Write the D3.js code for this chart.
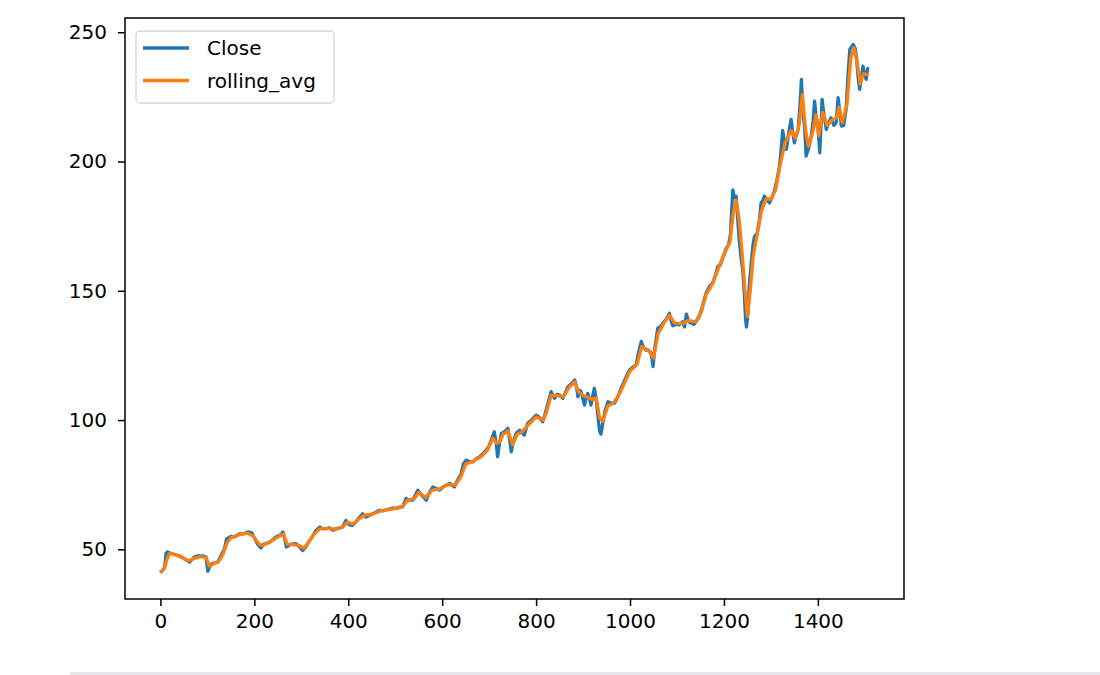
<!DOCTYPE html>
<html>
<head>
<meta charset="utf-8">
<script src="https://cdn.jsdelivr.net/npm/d3@7"></script>
<style>
  body { margin: 0; background: #fff; }
</style>
</head>
<body>
<div id="chart"></div>
<script>
// Close price as (row index, value) pairs
const closeIdx = [0, 5, 9, 12, 15, 20, 30, 40, 50, 62, 72, 80, 90, 97, 101, 104, 110, 122, 129, 136, 141, 150, 158, 168, 178, 186, 194, 200, 207, 214, 220, 225, 235, 246, 255, 261, 265, 268, 278, 289, 296, 303, 310, 316, 321, 330, 339, 346, 353, 360, 367, 375, 388, 395, 402, 410, 420, 431, 438, 445, 455, 466, 475, 485, 494, 502, 510, 516, 523, 530, 537, 543, 548, 556, 566, 573, 580, 587, 594, 605, 616, 626, 632, 640, 645, 651, 658, 665, 672, 680, 687, 694, 700, 706, 711, 715, 718, 722, 726, 733, 740, 744, 747, 752, 758, 765, 770, 775, 782, 790, 800, 807, 814, 820, 826, 832, 839, 845, 850, 857, 863, 868, 875, 882, 886, 889, 893, 896, 900, 903, 906, 910, 914, 917, 920, 924, 928, 931, 935, 938, 942, 946, 953, 960, 967, 974, 981, 990, 999, 1006, 1013, 1018, 1024, 1029, 1034, 1040, 1045, 1049, 1053, 1059, 1064, 1070, 1077, 1084, 1088, 1091, 1098, 1105, 1112, 1116, 1120, 1125, 1130, 1136, 1141, 1147, 1152, 1157, 1162, 1169, 1176, 1182, 1187, 1192, 1198, 1205, 1210, 1214, 1217, 1219, 1222, 1226, 1230, 1233, 1237, 1240, 1243, 1246, 1248, 1251, 1254, 1258, 1262, 1265, 1270, 1272, 1276, 1279, 1283, 1286, 1290, 1297, 1302, 1308, 1313, 1318, 1321, 1325, 1329, 1333, 1338, 1343, 1346, 1350, 1354, 1358, 1362, 1365, 1368, 1372, 1375, 1380, 1386, 1390, 1393, 1396, 1400, 1404, 1407, 1409, 1413, 1418, 1423, 1428, 1434, 1439, 1443, 1447, 1450, 1455, 1460, 1464, 1468, 1475, 1479, 1482, 1486, 1489, 1493, 1496, 1500, 1503, 1506, 1508]
const closeVal = [41, 42, 43, 48.5, 49, 48.5, 48, 47.5, 46.5, 45, 47, 47.5, 47.5, 47, 41.5, 43, 44.5, 45, 47.5, 50, 54, 55, 54.8, 56, 56, 56.7, 56.5, 54.5, 52, 50.5, 52, 52.2, 53, 54.8, 55.5, 56.7, 54, 50.9, 52, 52.2, 51, 49.5, 51, 53, 54.1, 57, 58.6, 58, 58, 58.3, 57.4, 58, 58.6, 61.2, 59.5, 59.3, 61.5, 63.8, 62.5, 63.2, 64, 65.1, 65, 65.5, 66, 65.8, 66.4, 66.4, 69.7, 69, 69, 71, 72.9, 71, 69, 72, 74.1, 73.5, 72.9, 74.5, 75.5, 74.1, 76.5, 79, 83, 84.5, 84, 83.8, 85, 85.8, 87, 88.4, 90, 93, 95.5, 91, 85.8, 91, 94.8, 95.5, 96.8, 92, 87.7, 92, 95, 96.1, 95, 94.2, 98.7, 100, 101.9, 101, 99.3, 103, 107, 111, 108.4, 110, 109.7, 108.4, 111, 112.9, 114, 115.5, 113, 109, 111.5, 111, 108, 105.8, 108, 110.3, 108, 105.8, 109, 112.3, 108, 102.6, 96, 94.5, 98.7, 103, 107.1, 106.5, 106.5, 109, 112.3, 116, 119.4, 120.5, 121.3, 126, 130.4, 128, 127.1, 127, 125.9, 120.7, 128, 135.5, 136, 137.5, 139, 141.3, 138, 136.5, 137, 136.8, 138, 136, 141, 138, 137.5, 137, 138.1, 140, 142.6, 146, 149.1, 151.7, 153, 156, 159.4, 160, 163, 166.5, 168, 172, 183, 189, 186, 186.6, 176, 168.5, 162, 158, 150, 139, 136, 141, 152, 160.7, 168, 171, 172, 173.6, 178, 184, 185, 186.6, 185.5, 184, 186, 189, 193, 198, 203, 212, 208, 204.7, 211, 216.3, 212, 207.2, 210, 212.4, 222, 231.8, 220, 212.4, 202.1, 205, 209.8, 216, 223.4, 218, 213.7, 203.4, 215, 224, 218, 212.4, 215, 216.9, 214, 215, 224.7, 219, 213.7, 214, 220, 233, 243.4, 245.3, 244, 240.8, 232, 227.9, 233, 236.9, 233, 231.8, 236, 235.7]

// rolling_avg as (row index, value) pairs
const rollIdx = [0, 8, 14, 20, 30, 45, 60, 72, 88, 98, 104, 115, 125, 133, 142, 150, 165, 185, 198, 210, 218, 230, 248, 262, 270, 280, 295, 305, 315, 325, 340, 360, 375, 390, 398, 410, 425, 435, 448, 468, 490, 508, 518, 526, 540, 550, 565, 578, 592, 612, 628, 640, 650, 665, 682, 696, 708, 716, 722, 730, 740, 750, 760, 770, 780, 800, 815, 822, 832, 845, 858, 870, 882, 890, 900, 910, 920, 928, 935, 942, 953, 965, 980, 1000, 1015, 1025, 1040, 1050, 1060, 1072, 1084, 1095, 1110, 1125, 1140, 1152, 1162, 1176, 1190, 1205, 1213, 1220, 1226, 1232, 1238, 1244, 1250, 1256, 1262, 1270, 1280, 1290, 1300, 1310, 1320, 1330, 1343, 1352, 1360, 1367, 1374, 1380, 1390, 1396, 1402, 1410, 1420, 1430, 1440, 1445, 1452, 1462, 1470, 1477, 1484, 1490, 1497, 1508]
const rollVal = [41, 42.5, 46, 48.5, 48, 47, 45.5, 46.5, 47.3, 46.5, 43.5, 44.5, 45.5, 48, 52.5, 54.5, 55.5, 56.3, 55, 52, 51.5, 52.5, 54.5, 56, 52, 51.8, 51.5, 50.5, 52.5, 55.5, 58, 58, 57.8, 59, 60.5, 59.8, 62, 63.3, 63.3, 64.8, 65.5, 66, 67, 69, 69.5, 72, 70, 72.8, 73.2, 75, 74.8, 78, 83, 84, 85.7, 88.2, 93, 91, 91.5, 94.5, 95.8, 90.5, 94.5, 95.5, 97.5, 101.2, 100, 103, 109.5, 109.5, 109, 112.5, 114.8, 111, 109.5, 108.8, 108, 108.5, 101, 99.5, 105.5, 106.5, 111, 119, 121.5, 128.5, 126.8, 124, 133.5, 137.5, 140.5, 137.5, 137.3, 138.5, 138, 142, 148.5, 152.8, 159.5, 166, 169, 180, 185, 178, 166, 152, 140, 150, 163, 171, 181, 185.5, 185.5, 189, 199, 207, 212, 209, 214, 226, 212, 206, 212, 218, 210, 219, 214, 216, 217, 221, 215, 222, 240, 244, 238, 230, 234, 233.5]

const xTicks = [0, 200, 400, 600, 800, 1000, 1200, 1400]
const yTicks = [50, 100, 150, 200, 250]

const width = 1100
const height = 675
const plot = { left: 125, top: 18, right: 904, bottom: 599 }

const closeData = closeIdx.map((d, i) => ({ x: d, y: closeVal[i] }))
const rollData = rollIdx.map((d, i) => ({ x: d, y: rollVal[i] }))
const all = closeData.concat(rollData)

// matplotlib style 5% margins
const xExt = d3.extent(all, d => d.x)
const yExt = d3.extent(all, d => d.y)
const xPad = (xExt[1] - xExt[0]) * 0.05
const yPad = (yExt[1] - yExt[0]) * 0.05

const x = d3.scaleLinear().domain([xExt[0] - xPad, xExt[1] + xPad]).range([plot.left, plot.right])
const y = d3.scaleLinear().domain([yExt[0] - yPad, yExt[1] + yPad]).range([plot.bottom, plot.top])

const svg = d3.select('#chart')
    .append('svg')
    .attr('width', width)
    .attr('height', height)
    .style('font-family', 'DejaVu Sans, sans-serif')

svg.append('rect')
    .attr('width', width)
    .attr('height', height)
    .attr('fill', '#fff')

const line = d3.line().x(d => x(d.x)).y(d => y(d.y))

// series
svg.append('path')
    .datum(closeData)
    .attr('d', line)
    .attr('fill', 'none')
    .attr('stroke', '#1f77b4')
    .attr('stroke-width', 3.3)
    .attr('stroke-linejoin', 'round')

svg.append('path')
    .datum(rollData)
    .attr('d', line)
    .attr('fill', 'none')
    .attr('stroke', '#ff7f0e')
    .attr('stroke-width', 3.3)
    .attr('stroke-linejoin', 'round')

// x axis
const xAxis = svg.append('g')
    .attr('transform', `translate(0, ${plot.bottom})`)
    .call(d3.axisBottom(x).tickValues(xTicks).tickFormat(d3.format('d')).tickSize(7).tickPadding(8))
xAxis.select('.domain').remove()
xAxis.selectAll('line').attr('stroke', '#000').attr('stroke-width', 1.5)
xAxis.selectAll('text').attr('font-size', 20).attr('fill', '#000').attr('font-family', 'DejaVu Sans, sans-serif')

// y axis
const yAxis = svg.append('g')
    .attr('transform', `translate(${plot.left}, 0)`)
    .call(d3.axisLeft(y).tickValues(yTicks).tickFormat(d3.format('d')).tickSize(7).tickPadding(11))
yAxis.select('.domain').remove()
yAxis.selectAll('line').attr('stroke', '#000').attr('stroke-width', 1.5)
yAxis.selectAll('text').attr('font-size', 20).attr('fill', '#000').attr('font-family', 'DejaVu Sans, sans-serif')

// frame
svg.append('rect')
    .attr('x', plot.left)
    .attr('y', plot.top)
    .attr('width', plot.right - plot.left)
    .attr('height', plot.bottom - plot.top)
    .attr('fill', 'none')
    .attr('stroke', '#000')
    .attr('stroke-width', 1.5)

// legend
const legend = svg.append('g').attr('transform', 'translate(136, 31)')
legend.append('rect')
    .attr('width', 198)
    .attr('height', 72)
    .attr('rx', 4)
    .attr('fill', '#fff')
    .attr('fill-opacity', 0.8)
    .attr('stroke', '#d6d6d6')
    .attr('stroke-width', 1.3)

const legendItems = [
    { name: 'Close', color: '#1f77b4' },
    { name: 'rolling_avg', color: '#ff7f0e' }
]
const items = legend.selectAll('g').data(legendItems).enter().append('g')
    .attr('transform', (d, i) => `translate(0, ${17 + i * 32.5})`)
items.append('line')
    .attr('x1', 7).attr('x2', 53)
    .attr('stroke', d => d.color)
    .attr('stroke-width', 3.3)
items.append('text')
    .text(d => d.name)
    .attr('x', 71)
    .attr('y', 7)
    .attr('font-size', 20)
    .attr('fill', '#000')

// notebook cell separator
svg.append('rect')
    .attr('x', 70)
    .attr('y', 672)
    .attr('width', width - 70)
    .attr('height', 3)
    .attr('fill', '#e6e6e8')
</script>
</body>
</html>
